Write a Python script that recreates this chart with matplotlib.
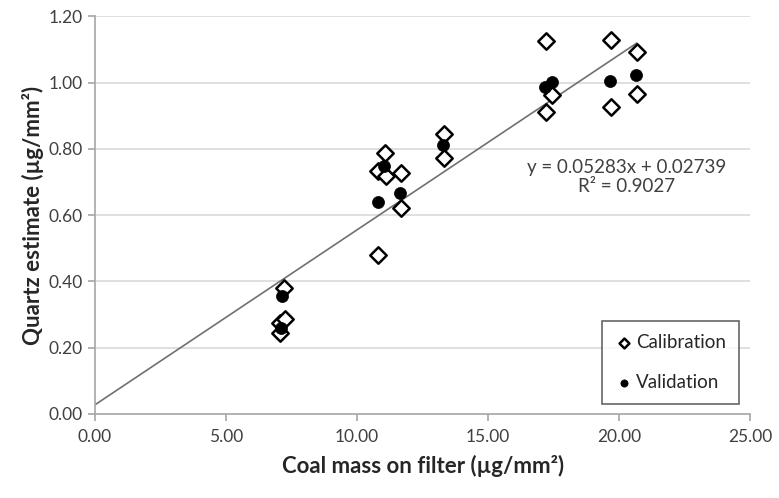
import matplotlib
matplotlib.use("Agg")
import matplotlib.pyplot as plt
import numpy as np

# Data
cal_x = [7.05, 7.05, 7.25, 7.2, 10.78, 10.8, 11.07, 11.12, 11.66, 11.66,
         13.3, 13.3, 17.22, 17.22, 17.43, 19.7, 19.7, 20.67, 20.67]
cal_y = [0.245, 0.275, 0.285, 0.38, 0.48, 0.733, 0.788, 0.718, 0.726, 0.622,
         0.845, 0.773, 1.125, 0.911, 0.963, 1.128, 0.926, 1.092, 0.966]
val_x = [7.1, 7.15, 10.78, 11.03, 11.62, 13.27, 17.18, 17.43, 19.66, 20.64]
val_y = [0.26, 0.357, 0.641, 0.748, 0.668, 0.813, 0.987, 1.002, 1.004, 1.024]

slope = 0.05283
intercept = 0.02739
r2 = 0.9027
fit_x = [0.0, 20.67]

xticks = [0, 5, 10, 15, 20, 25]
yticks = [0.0, 0.2, 0.4, 0.6, 0.8, 1.0, 1.2]

plt.rcParams['font.family'] = ['Lato', 'DejaVu Sans']

fig = plt.figure(figsize=(7.79, 4.98), dpi=100)
ax = fig.add_axes([0.122, 0.169, 0.841, 0.798])

grid_c = '#d9d9d9'
for yv in yticks[1:]:
    ax.axhline(yv, color=grid_c, lw=1.2, zorder=0)

fx = np.array(fit_x)
ax.plot(fx, slope * fx + intercept, color='#707070', lw=1.2, zorder=2)

ax.scatter(cal_x, cal_y, marker='D', s=70, facecolor='white', edgecolor='black',
           linewidths=1.8, zorder=3, label='Calibration')
ax.scatter(val_x, val_y, marker='o', s=75, facecolor='black', edgecolor='black',
           linewidths=0.5, zorder=4, label='Validation')

ax.set_xlim(0, 25)
ax.set_ylim(0, 1.2)
ax.set_xticks(xticks)
ax.set_yticks(yticks)
ax.set_xticklabels([f"{v:.2f}" for v in xticks])
ax.set_yticklabels([f"{v:.2f}" for v in yticks])

for s in ['top', 'right']:
    ax.spines[s].set_visible(False)
for s in ['left', 'bottom']:
    ax.spines[s].set_color('#a6a6a6')
    ax.spines[s].set_linewidth(1.2)
ax.tick_params(axis='both', colors='#a6a6a6', length=5, width=1.2,
               labelcolor='#404040', labelsize=12.5)
ax.tick_params(axis='x', pad=6)
ax.tick_params(axis='y', pad=4)

ax.set_xlabel('Coal mass on filter (µg/mm²)', fontsize=16, fontweight='bold',
              color='#262626', labelpad=7)
ax.set_ylabel('Quartz estimate (µg/mm²)', fontsize=16, fontweight='bold',
              color='#262626', labelpad=3)

ax.text(20.27, 0.715, f"y = {slope}x + {intercept}\nR² = {r2}",
        ha='center', va='center', fontsize=13.5, color='#404040',
        linespacing=1.15, zorder=5)

leg = ax.legend(loc='lower right', bbox_to_anchor=(0.997, 0.0), frameon=True,
                fancybox=False, edgecolor='#404040', fontsize=13.5,
                labelspacing=1.25, handletextpad=0.1, handlelength=1.0,
                borderpad=0.7, markerscale=0.6)
leg.get_frame().set_linewidth(1.2)
for t in leg.get_texts():
    t.set_color('#262626')

fig.savefig('out.png', dpi=100)
